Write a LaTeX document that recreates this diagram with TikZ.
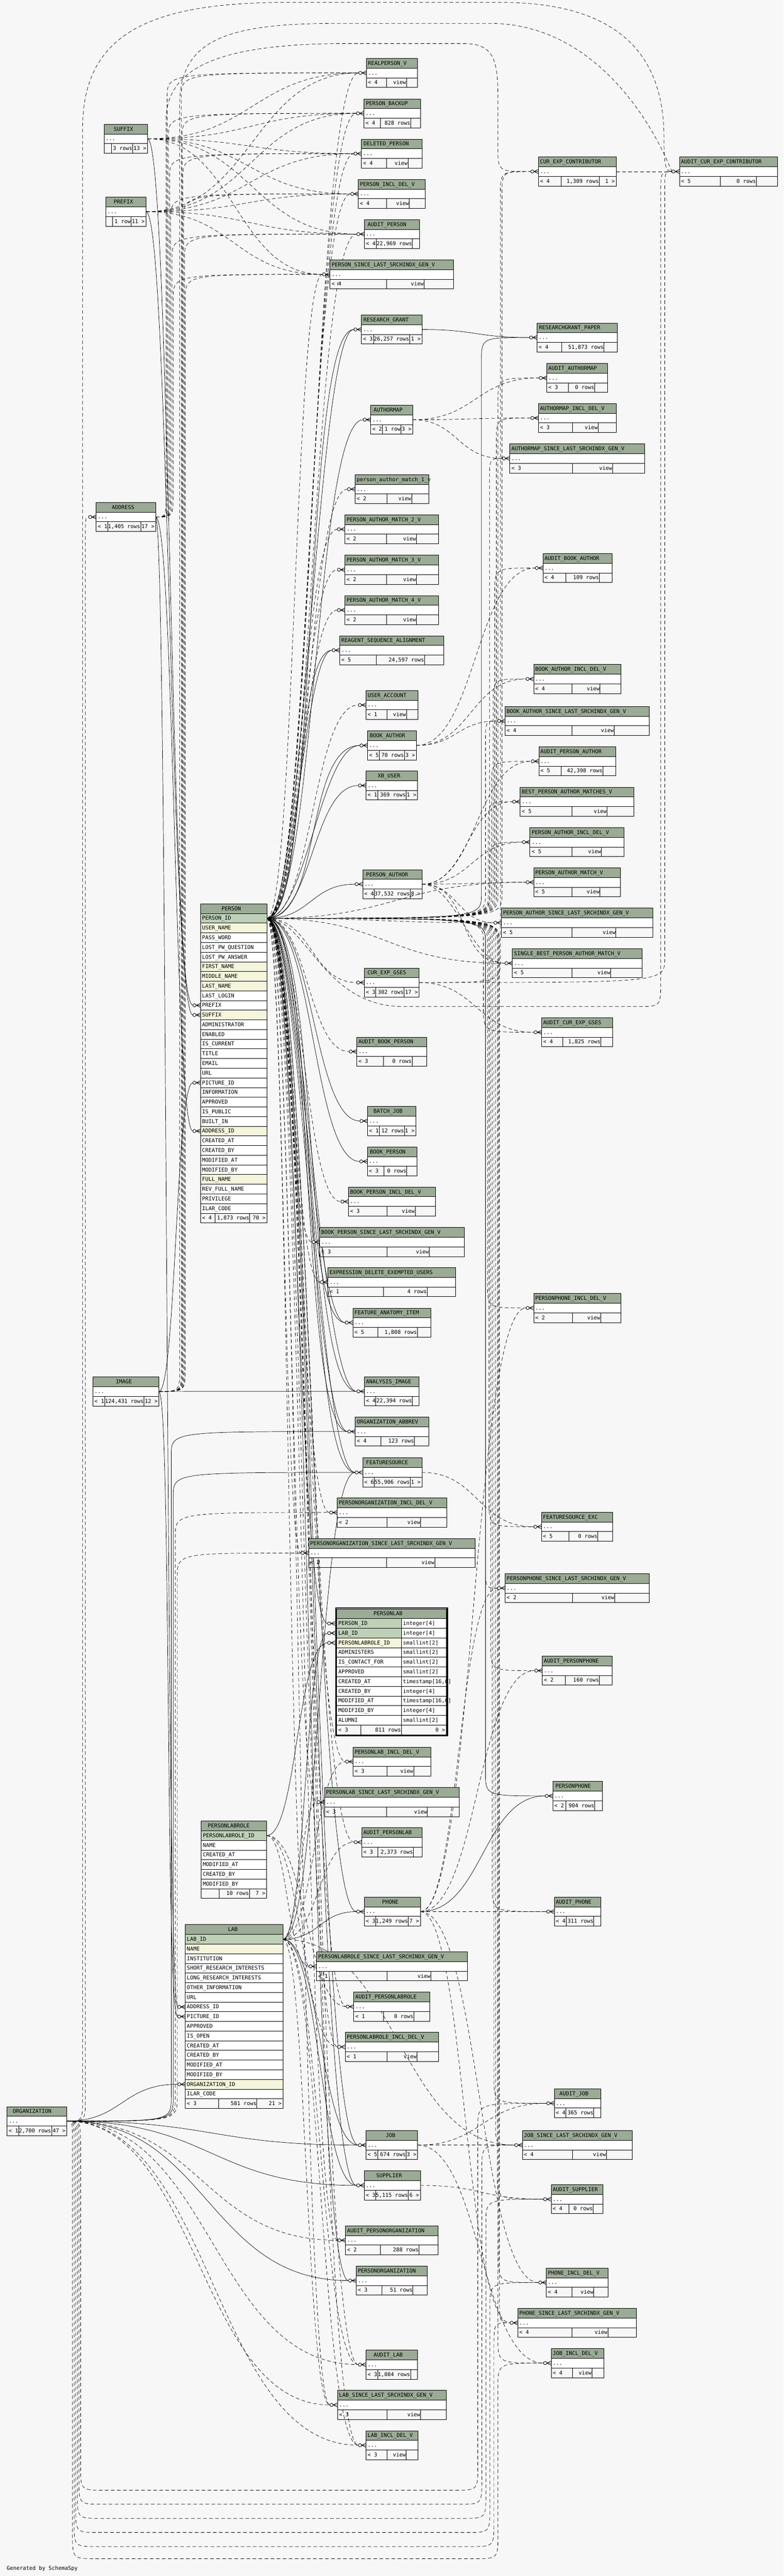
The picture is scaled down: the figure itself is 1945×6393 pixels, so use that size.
\documentclass[tikz,border=0pt]{standalone}
\usepackage{fontspec}
\newfontfamily\tbmono{DejaVu Sans Mono}
\usetikzlibrary{calc}
\pgfdeclarelayer{bottom}
\pgfdeclarelayer{edges}
\pgfsetlayers{bottom,edges,main}
\definecolor{pagebg}{HTML}{F7F7F7}
\definecolor{hdrc}{HTML}{9BAB96}
\definecolor{pkc}{HTML}{BED1B8}
\definecolor{idxc}{HTML}{F5F5DC}
\newcount\tbn
\def\tbend{tbend-marker}
\def\tbcount#1{\tbn=0 \tbcountloop#1\tbend}
\def\tbcountloop#1{\ifx#1\tbend\else\advance\tbn by 1 \expandafter\tbcountloop\fi}
\newif\iftbmk \tbmktrue
\newcommand\tbfont{\tbmono\fontsize{13.3pt}{15pt}\selectfont}
\tikzset{
  tbox/.style={draw=black,line width=1pt},
  txt/.style={font=\tbfont,inner sep=0pt,outer sep=0pt,text height=10pt,text depth=1pt},
  fkl/.style={draw=black,line width=0.9pt},
  iml/.style={draw=black,line width=0.9pt,dash pattern=on 9pt off 6pt},
}
\newcommand\ttl[5]{\expandafter\tbcount\expandafter{#5}\pgfmathsetmacro\tboff{max(4,(#3-#2-10*\the\tbn)/2)}\node[txt,anchor=west] (#1) at (#2+\tboff,#4+12) {#5};}
\newcommand\mk[2]{\draw[line width=1.1pt,fill=pagebg] (#1-15,#2) circle[radius=4pt];
  \draw[line width=1.1pt] (#1-11,#2) -- (#1,#2-5) (#1-11,#2) -- (#1,#2) (#1-11,#2) -- (#1,#2+5);}
\newcommand\ftr[9]{%
  \draw[tbox] (#1,#3) -- (#2,#3) (#4,#3) -- (#4,#3+24) (#5,#3) -- (#5,#3+24);
  \node[txt,anchor=west] (#9-fa) at (#1+4,#3+12) {#6};
  \node[txt,anchor=east] (#9-fb) at (#5-1,#3+12) {#7};
  \node[txt,anchor=east] (#9-fc) at (#2-3,#3+12) {#8};}
\newcommand\tb[5]{\def\tbid{#1}\def\tbxa{#2}\def\tbxb{#3}\def\tbya{#4}\def\tbtitle{#5}\tbfinish}
\newcommand\tbfinish[5]{%
  \fill[hdrc] (\tbxa,\tbya) rectangle (\tbxb,\tbya+24);
  \fill[white] (\tbxa,\tbya+24) rectangle (\tbxb,\tbya+48);
  \draw[tbox] (\tbxa,\tbya+24) -- (\tbxb,\tbya+24);
  \ttl{\tbid-t}{\tbxa}{\tbxb}{\tbya}{\tbtitle}%
  \pgfmathsetmacro\tbw{\tbxb-\tbxa}%
  \node[inner sep=0pt,outer sep=0pt,minimum width=\tbw pt,minimum height=24pt,anchor=west] (\tbid) at (\tbxa,\tbya+36) {};
  \node[txt,anchor=west] (\tbid-d) at (\tbxa+4,\tbya+36) {...};
  \coordinate (\tbid-in) at (\tbxa-19,\tbya+36);
  \ftr{\tbxa}{\tbxb}{\tbya+48}{#1}{#2}{#3}{#4}{#5}{\tbid}%
  \draw[tbox] (\tbxa,\tbya) rectangle (\tbxb,\tbya+72);
  \iftbmk\mk{\tbxa}{\tbya+36}\fi}
\newcommand\dt[6]{%
  \fill[hdrc] (#2,#4) rectangle (#3,#4+24);
  \ttl{#1-t}{#2}{#3}{#4}{#5}%
  \foreach \cn/\rc [count=\i] in {#6}{%
    \fill[\rc] (#2,#4+24*\i) rectangle (#3,#4+24*\i+24);
    \draw[tbox] (#2,#4+24*\i) -- (#3,#4+24*\i);
    \node[txt,anchor=west] (#1-\i) at (#2+4,#4+24*\i+12) {\cn};
    \coordinate (#1-\i-in) at (#2-19,#4+24*\i+12);
  }}
\newcommand\Ec[4][fkl]{\draw[#1] let \p1=(#2),\p2=(#3),\n1={max(30pt,#4*abs(\x2-\x1))} in (\p1) .. controls +(\n1,0) and +(-\n1,0) .. (\p2);}
\newcommand\Ev[4][iml]{\draw[#1] let \p1=(#2),\p2=(#4),\n1={ifthenelse(\y2>\y1,60pt,-60pt)} in (\p1) .. controls ({#3pt},\y1) .. ({#3pt},{\y1+\n1}) -- ({#3pt},{\y2-\n1}) .. controls ({#3pt},\y2) .. (\p2);}
\newcommand\Eb[6][iml]{\draw[#1] let \p1=(#2),\p2=(#6) in (\p1) .. controls ({#3pt},\y1) .. ({#3pt},{\y1-60pt}) -- ({#3pt},{60pt-#4pt}) .. controls ({#3pt},{-#4pt}) .. ({#3pt+60pt},{-#4pt}) -- ({#5pt-60pt},{-#4pt}) .. controls ({#5pt},{-#4pt}) .. ({#5pt},{60pt-#4pt}) -- ({#5pt},{\y2-60pt}) .. controls ({#5pt},\y2) .. (\p2);}

\begin{document}
\begin{tikzpicture}[x=1pt,y=-1pt]
\useasboundingbox (0,0) rectangle (1945,6393);
\begin{pgfonlayer}{bottom}
\fill[pagebg] (0,0) rectangle (1945,6393);
\end{pgfonlayer}

% ---------- middle column ----------
\tb{realpersonv}{909.3}{1036.7}{145}{REALPERSON\_V}{960}{1009}{< 4}{view}{}
\tb{personbackup}{903.3}{1043.3}{245.4}{PERSON\_BACKUP}{944.7}{1019.7}{< 4}{828 rows}{}
\tb{deletedperson}{897.3}{1047.7}{345.3}{DELETED\_PERSON}{959.3}{1012.7}{< 4}{view}{}
\tb{personincldelv}{889.3}{1055.7}{445.2}{PERSON\_INCL\_DEL\_V}{959.3}{1016.3}{< 4}{view}{}
\tb{auditperson}{904.3}{1040.7}{545}{AUDIT\_PERSON}{933.3}{1023.7}{< 4}{22,969 rows}{}
\tb{personsincev}{819.3}{1125.7}{644.9}{PERSON\_SINCE\_LAST\_SRCHINDX\_GEN\_V}{959.3}{1052.7}{< 4}{view}{}
\tb{researchgrant}{897.3}{1047.3}{781.7}{RESEARCH\_GRANT}{927.7}{1016.7}{< 3}{26,257 rows}{1 >}
\tb{authormap}{920.3}{1024.3}{1005.6}{AUTHORMAP}{949.3}{995.7}{< 2}{1 row}{3 >}
\tb{pamone}{881.3}{1064.3}{1178}{person\_author\_match\_1\_v}{960.3}{1021.7}{< 2}{view}{}
\tb{pamtwo}{856.3}{1088.3}{1277.5}{PERSON\_AUTHOR\_MATCH\_2\_V}{959.3}{1033.7}{< 2}{view}{}
\tb{pamthree}{856.3}{1088.3}{1377.9}{PERSON\_AUTHOR\_MATCH\_3\_V}{959.3}{1033.7}{< 2}{view}{}
\tb{pamfour}{856.3}{1088.3}{1478}{PERSON\_AUTHOR\_MATCH\_4\_V}{959.3}{1033.7}{< 2}{view}{}
\tb{reagent}{843.3}{1101.3}{1577.7}{REAGENT\_SEQUENCE\_ALIGNMENT}{933.3}{1053.7}{< 5}{24,597 rows}{}
\tb{useraccount}{908.3}{1037.3}{1713.7}{USER\_ACCOUNT}{960.3}{1008.7}{< 1}{view}{}
\tb{bookauthor}{912.3}{1033.3}{1814}{BOOK\_AUTHOR}{941.7}{1003.7}{< 5}{70 rows}{3 >}
\tb{xbuser}{908.5}{1036.6}{1913.4}{XB\_USER}{937.5}{1008.4}{< 1}{369 rows}{1 >}
\tb{personauthor}{900.2}{1047.3}{2158.4}{PERSON\_AUTHOR}{929.1}{1018.3}{< 4}{37,532 rows}{8 >}
\tb{curexpgses}{904}{1040.4}{2402.4}{CUR\_EXP\_GSES}{933}{1003}{< 3}{302 rows}{17 >}
\tb{auditbookperson}{885.7}{1059.5}{2573.7}{AUDIT\_BOOK\_PERSON}{952}{1022.9}{< 3}{0 rows}{}
\tb{batchjob}{912.3}{1032}{2746}{BATCH\_JOB}{941.3}{1003.8}{< 1}{12 rows}{1 >}
\tb{bookperson}{911.6}{1035}{2846.4}{BOOK\_PERSON}{952.7}{1009.9}{< 3}{0 rows}{}
\tb{bookpersonincl}{865}{1081.5}{2946}{BOOK\_PERSON\_INCL\_DEL\_V}{960.4}{1030.5}{< 3}{view}{}
\tb{bookpersonsince}{793.4}{1152.4}{3046.4}{BOOK\_PERSON\_SINCE\_LAST\_SRCHINDX\_GEN\_V}{960.4}{1065.5}{< 3}{view}{}
\tb{expression}{814}{1131}{3146}{EXPRESSION\_DELETE\_EXEMPTED\_USERS}{952}{1060.2}{< 1}{4 rows}{}
\tb{featureanatomy}{875.8}{1069.4}{3246.4}{FEATURE\_ANATOMY\_ITEM}{937.5}{1035.8}{< 5}{1,808 rows}{}
\tb{analysisimage}{904.7}{1040.4}{3417}{ANALYSIS\_IMAGE}{933}{1023.6}{< 4}{22,394 rows}{}
\tb{orgabbrev}{881.9}{1064}{3516.7}{ORGANIZATION\_ABBREV}{945.1}{1029}{< 4}{123 rows}{}
\tb{featuresource}{900.2}{1047.3}{3618.2}{FEATURESOURCE}{929.1}{1018.3}{< 6}{55,906 rows}{1 >}
\tb{personorgincl}{836.9}{1109}{3717.7}{PERSONORGANIZATION\_INCL\_DEL\_V}{960.4}{1044.2}{< 2}{view}{}
\tb{personorgsince}{766}{1179.1}{3818.2}{PERSONORGANIZATION\_SINCE\_LAST\_SRCHINDX\_GEN\_V}{959.6}{1079.3}{< 2}{view}{}
\tb{personlabincl}{876.5}{1069.4}{4335.9}{PERSONLAB\_INCL\_DEL\_V}{960.4}{1026.7}{< 3}{view}{}
\tb{personlabsince}{805.6}{1139.5}{4436.4}{PERSONLAB\_SINCE\_LAST\_SRCHINDX\_GEN\_V}{959.6}{1061}{< 3}{view}{}
\tb{auditpersonlab}{897.9}{1047.3}{4535.9}{AUDIT\_PERSONLAB}{937.5}{1025.9}{< 3}{2,373 rows}{}
\tb{phone}{904}{1043.4}{4708.1}{PHONE}{933}{1013.7}{< 3}{1,249 rows}{7 >}
\tb{personlabrolesince}{785.8}{1160}{4844}{PERSONLABROLE\_SINCE\_LAST\_SRCHINDX\_GEN\_V}{960.4}{1069.4}{< 1}{view}{}
\tb{auditpersonlabrole}{878}{1067}{4943.8}{AUDIT\_PERSONLABROLE}{952}{1027.4}{< 1}{0 rows}{}
\tb{personlabroleincl}{856.7}{1089.2}{5043.8}{PERSONLABROLE\_INCL\_DEL\_V}{960.4}{1035.1}{< 1}{view}{}
\tb{job}{908.5}{1036.6}{5287.6}{JOB}{937.5}{1008.4}{< 5}{674 rows}{3 >}
\tb{supplier}{904}{1043.4}{5387.6}{SUPPLIER}{933}{1013.7}{< 3}{5,115 rows}{6 >}
\tb{auditpersonorg}{857.5}{1087.7}{5523.8}{AUDIT\_PERSONORGANIZATION}{944.4}{1040.4}{< 2}{288 rows}{}
\tb{personorg}{884.1}{1061}{5623.8}{PERSONORGANIZATION}{947.4}{1025.2}{< 3}{51 rows}{}
\tb{auditlab}{908.5}{1036.6}{5832.4}{AUDIT\_LAB}{937.5}{1019}{< 3}{1,084 rows}{}
\tb{labsince}{837.7}{1108.2}{5932.4}{LAB\_SINCE\_LAST\_SRCHINDX\_GEN\_V}{960.4}{1044.2}{< 3}{view}{}
\tb{labincl}{908.5}{1037.3}{6032.4}{LAB\_INCL\_DEL\_V}{960.4}{1008.4}{< 3}{view}{}

% ---------- right column ----------
\tb{curexpcontrib}{1336.3}{1529.2}{389.6}{CUR\_EXP\_CONTRIBUTOR}{1392.4}{1487.4}{< 4}{1,309 rows}{1 >}
\tb{auditcurexpcontrib}{1686.5}{1930.2}{389.6}{AUDIT\_CUR\_EXP\_CONTRIBUTOR}{1787.6}{1877.4}{< 5}{0 rows}{}
\tb{rgpaper}{1333.3}{1532.4}{801.6}{RESEARCHGRANT\_PAPER}{1393.6}{1499.6}{< 4}{51,873 rows}{}
\tb{auditauthormap}{1357.3}{1507.5}{902}{AUDIT\_AUTHORMAP}{1411.3}{1476.5}{< 3}{0 rows}{}
\tb{authormapincl}{1336.4}{1529.7}{1001.4}{AUTHORMAP\_INCL\_DEL\_V}{1420.7}{1484.5}{< 3}{view}{}
\tb{authormapsince}{1265.5}{1600.6}{1101.7}{AUTHORMAP\_SINCE\_LAST\_SRCHINDX\_GEN\_V}{1420.7}{1520.4}{< 3}{view}{}
\tb{auditbookauthor}{1347.5}{1519.5}{1373.7}{AUDIT\_BOOK\_AUTHOR}{1404.3}{1487.6}{< 4}{109 rows}{}
\tb{bookauthorincl}{1324.5}{1540.8}{1649}{BOOK\_AUTHOR\_INCL\_DEL\_V}{1419.3}{1489.4}{< 4}{view}{}
\tb{bookauthorsince}{1253.7}{1611.4}{1753.3}{BOOK\_AUTHOR\_SINCE\_LAST\_SRCHINDX\_GEN\_V}{1419.5}{1524.5}{< 4}{view}{}
\tb{auditpersonauthor}{1337.3}{1527.8}{1853.3}{AUDIT\_PERSON\_AUTHOR}{1393.3}{1496.4}{< 5}{42,398 rows}{}
\tb{bestpam}{1291.2}{1573.2}{1953.6}{BEST\_PERSON\_AUTHOR\_MATCHES\_V}{1419.2}{1506.8}{< 5}{view}{}
\tb{personauthorincl}{1315.5}{1549.5}{2054}{PERSON\_AUTHOR\_INCL\_DEL\_V}{1419.2}{1493.1}{< 5}{view}{}
\tb{pamv}{1324.7}{1540.4}{2153.6}{PERSON\_AUTHOR\_MATCH\_V}{1419.2}{1489.3}{< 5}{view}{}
\tb{personauthorsince}{1244.7}{1620.4}{2254}{PERSON\_AUTHOR\_SINCE\_LAST\_SRCHINDX\_GEN\_V}{1419.2}{1529}{< 5}{view}{}
\tb{singlebest}{1272}{1593}{2354.5}{SINGLE\_BEST\_PERSON\_AUTHOR\_MATCH\_V}{1419.2}{1516}{< 5}{view}{}
\tb{auditcurexpgses}{1344.5}{1521.3}{2525.8}{AUDIT\_CUR\_EXP\_GSES}{1397.1}{1491.6}{< 4}{1,825 rows}{}
\tb{personphoneincl}{1324.7}{1541}{3210}{PERSONPHONE\_INCL\_DEL\_V}{1420.7}{1490.9}{< 2}{view}{}
\tb{featuresourceexc}{1343.8}{1521.3}{3753}{FEATURESOURCE\_EXC}{1411.6}{1484}{< 5}{0 rows}{}
\tb{personphonesince}{1253.8}{1612}{3905.3}{PERSONPHONE\_SINCE\_LAST\_SRCHINDX\_GEN\_V}{1420.7}{1525.9}{< 2}{view}{}
\tb{auditpersonphone}{1346}{1519}{4110}{AUDIT\_PERSONPHONE}{1403.2}{1487.8}{< 2}{160 rows}{}
\tb{personphone}{1372}{1495.4}{4421}{PERSONPHONE}{1404}{1476.4}{< 2}{904 rows}{}
\tb{auditphone}{1375.8}{1491.6}{4708.1}{AUDIT\_PHONE}{1405.5}{1474}{< 4}{311 rows}{}
\tb{auditjob}{1375.8}{1491.6}{5183.8}{AUDIT\_JOB}{1404}{1474}{< 4}{365 rows}{}
\tb{jobsince}{1296.5}{1569.4}{5287.6}{JOB\_SINCE\_LAST\_SRCHINDX\_GEN\_V}{1420.7}{1505.3}{< 4}{view}{}
\tb{auditsupplier}{1368}{1497}{5421.9}{AUDIT\_SUPPLIER}{1411.6}{1472.6}{< 4}{0 rows}{}
\tb{phoneincl}{1356}{1509}{5628.6}{PHONE\_INCL\_DEL\_V}{1419.2}{1474}{< 4}{view}{}
\tb{phonesince}{1285}{1580}{5728.6}{PHONE\_SINCE\_LAST\_SRCHINDX\_GEN\_V}{1419.2}{1509.1}{< 4}{view}{}
\tb{jobincl}{1368}{1499.2}{5828.6}{JOB\_INCL\_DEL\_V}{1420.7}{1469.5}{< 4}{view}{}

% ---------- left column ----------
\tbmkfalse
\tb{suffix}{258.3}{366.2}{308.4}{SUFFIX}{276.1}{329.5}{}{3 rows}{13 >}
\tb{prefix}{262.3}{362.2}{489.2}{PREFIX}{279.6}{325.5}{}{1 row}{11 >}
\tb{image}{230.6}{394.4}{3417.3}{IMAGE}{259.7}{357.7}{< 1}{124,431 rows}{12 >}
\tb{organization}{17.7}{165.6}{5228}{ORGANIZATION}{46.4}{127.8}{< 1}{2,700 rows}{47 >}
\tbmktrue
\tb{address}{238.8}{386.3}{1247}{ADDRESS}{267.5}{349}{< 1}{1,405 rows}{17 >}

% ---------- PERSON ----------
\dt{person}{497.7}{662.3}{2243}{PERSON}{PERSON\_ID/pkc,USER\_NAME/idxc,PASS\_WORD/white,LOST\_PW\_QUESTION/white,LOST\_PW\_ANSWER/white,FIRST\_NAME/idxc,MIDDLE\_NAME/idxc,LAST\_NAME/idxc,LAST\_LOGIN/white,PREFIX/white,SUFFIX/idxc,ADMINISTRATOR/white,ENABLED/white,IS\_CURRENT/white,TITLE/white,EMAIL/white,URL/white,PICTURE\_ID/white,INFORMATION/white,APPROVED/white,IS\_PUBLIC/white,BUILT\_IN/white,ADDRESS\_ID/idxc,CREATED\_AT/white,CREATED\_BY/white,MODIFIED\_AT/white,MODIFIED\_BY/white,FULL\_NAME/idxc,REV\_FULL\_NAME/white,PRIVILEGE/white,ILAR\_CODE/white}
\ftr{497.7}{662.3}{3011}{534.3}{619.7}{< 4}{1,873 rows}{70 >}{person}
\draw[tbox] (497.7,2243) rectangle (662.3,3035);
\coordinate (person-pk) at (662.3,2279);
\foreach \r in {10,11,18,23}{\mk{497.7}{2255+24*\r}}

% ---------- PERSONLABROLE ----------
\dt{plr}{499.5}{661.7}{4519.3}{PERSONLABROLE}{PERSONLABROLE\_ID/pkc,NAME/white,CREATED\_AT/white,MODIFIED\_AT/white,CREATED\_BY/white,MODIFIED\_BY/white}
\ftr{499.5}{661.7}{4687.3}{543.5}{618.7}{}{10 rows}{7 >}{plr}
\draw[tbox] (499.5,4519.3) rectangle (661.7,4711.3);
\coordinate (plr-pk) at (661.7,4555.3);

% ---------- LAB ----------
\dt{lab}{459.8}{701.9}{4776.6}{LAB}{LAB\_ID/pkc,NAME/idxc,INSTITUTION/white,SHORT\_RESEARCH\_INTERESTS/white,LONG\_RESEARCH\_INTERESTS/white,OTHER\_INFORMATION/white,URL/white,ADDRESS\_ID/white,PICTURE\_ID/white,APPROVED/white,IS\_OPEN/white,CREATED\_AT/white,CREATED\_BY/white,MODIFIED\_AT/white,MODIFIED\_BY/white,ORGANIZATION\_ID/idxc,ILAR\_CODE/white}
\ftr{459.8}{701.9}{5208.6}{542.1}{637.8}{< 3}{581 rows}{21 >}{lab}
\draw[tbox] (459.8,4776.6) rectangle (701.9,5232.6);
\coordinate (lab-pk) at (701.9,4812.6);
\foreach \r in {8,9,16}{\mk{459.8}{4788.6+24*\r}}

% ---------- PERSONLAB (focus) ----------
\fill[hdrc] (836,3993) rectangle (1108,4017);
\ttl{personlab-t}{836}{1108}{3993}{PERSONLAB}
\foreach \cn/\ct/\rc [count=\i] in {PERSON\_ID/integer[4]/pkc,LAB\_ID/integer[4]/pkc,PERSONLABROLE\_ID/smallint[2]/idxc,ADMINISTERS/smallint[2]/white,IS\_CONTACT\_FOR/smallint[2]/white,APPROVED/smallint[2]/white,CREATED\_AT/{timestamp[16,6]}/white,CREATED\_BY/integer[4]/white,MODIFIED\_AT/{timestamp[16,6]}/white,MODIFIED\_BY/integer[4]/white,ALUMNI/smallint[2]/white}{%
  \fill[\rc] (836,3993+24*\i) rectangle (996.2,4017+24*\i);
  \fill[white] (996.2,3993+24*\i) rectangle (1108,4017+24*\i);
  \draw[tbox] (836,3993+24*\i) -- (1108,3993+24*\i) (996.2,3993+24*\i) -- (996.2,4017+24*\i);
  \node[txt,anchor=west] (personlab-\i) at (840,4005+24*\i) {\cn};
  \node[txt,anchor=west] (personlab-\i-ty) at (1000.2,4005+24*\i) {\ct};
  \coordinate (personlab-\i-in) at (813,4005+24*\i);
}
\ftr{836}{1108}{4281}{895.6}{996.2}{< 3}{811 rows}{0 >}{personlab}
\draw[tbox] (836,3993) rectangle (1108,4305);
\draw[line width=3.5pt] (833.5,3990.5) rectangle (1110.5,4307.5);
\foreach \r in {1,2,3}{\mk{832}{4005+24*\r}}

\node[txt,anchor=west] (gen) at (16.7,6374) {Generated by SchemaSpy};

% ================= connectors =================
\begin{pgfonlayer}{edges}
% PERSON, real keys
\foreach \q/\ff in {researchgrant/0.42,researchgrant/0.6,authormap/0.5,reagent/0.42,reagent/0.6,bookauthor/0.42,bookauthor/0.6,xbuser/0.5,personauthor/0.5,batchjob/0.5,bookperson/0.5,featureanatomy/0.42,featureanatomy/0.6,analysisimage/0.42,analysisimage/0.6,orgabbrev/0.42,orgabbrev/0.6,featuresource/0.42,featuresource/0.6,phone/0.5,job/0.5,supplier/0.5,personorg/0.5}{\Ec{person-pk}{\q-in}{\ff}}
\Ec{person-pk}{personlab-1-in}{0.5}
\Ev[fkl]{person-pk}{1195}{rgpaper-in}
\Ev[fkl]{person-pk}{1205}{personphone-in}
% PERSON, implied keys
\foreach \q in {realpersonv,personbackup,deletedperson,personincldelv,auditperson,personsincev,pamone,pamtwo,pamthree,pamfour,useraccount,curexpgses,auditbookperson,bookpersonincl,bookpersonsince,expression,personorgincl,personorgsince,personlabincl,personlabsince,auditpersonlab,personlabrolesince,auditpersonlabrole,personlabroleincl,auditpersonorg,auditlab,labsince,labincl}{\Ec[iml]{person-pk}{\q-in}{0.5}}
\foreach \q/\xv in {auditauthormap/1236,authormapincl/1232,authormapsince/1215,auditbookauthor/1228,bookauthorincl/1224,bookauthorsince/1205,auditpersonauthor/1220,bestpam/1212,personauthorincl/1216,auditcurexpgses/1200,personphoneincl/1210,featuresourceexc/1214,personphonesince/1205,auditpersonphone/1218,auditphone/1222,auditjob/1226,jobsince/1230,auditsupplier/1234,phoneincl/1238,phonesince/1240,jobincl/1236}{\Ev{person-pk}{\xv}{\q-in}}
\foreach \q in {pamv,personauthorsince,singlebest}{\Ec[iml]{person-pk}{\q-in}{0.5}}
\Ev{person-pk}{1246}{curexpcontrib-in}
\draw[iml] (person-pk) .. controls (760,2279) and (800,2498) .. (1000,2498) -- (1580,2498) .. controls (1640,2498) .. (1640,2438) -- (1640,486) .. controls (1640,425.6) .. (auditcurexpcontrib-in);

% second-level parents
\Ec{researchgrant.east}{rgpaper-in}{0.5}
\foreach \q in {auditauthormap,authormapincl,authormapsince}{\Ec[iml]{authormap.east}{\q-in}{0.5}}
\foreach \q in {auditbookauthor,bookauthorincl,bookauthorsince}{\Ec[iml]{bookauthor.east}{\q-in}{0.5}}
\foreach \q/\ff in {bestpam/0.5,personauthorincl/0.5,pamv/0.5,personauthorsince/0.5,singlebest/0.4,singlebest/0.6,auditpersonauthor/0.5}{\Ec[iml]{personauthor.east}{\q-in}{\ff}}
\Ec[iml]{curexpgses.east}{auditcurexpgses-in}{0.5}
\Ev{curexpgses.east}{1242}{curexpcontrib-in}
\Ev{curexpgses.east}{1650}{auditcurexpcontrib-in}
\Ec[iml]{curexpcontrib.east}{auditcurexpcontrib-in}{0.5}
\Ec[iml]{featuresource.east}{featuresourceexc-in}{0.5}
\Ec{phone.east}{personphone-in}{0.5}
\foreach \q in {auditphone,phoneincl,phonesince,auditpersonphone,personphonesince,personphoneincl}{\Ec[iml]{phone.east}{\q-in}{0.5}}
\foreach \q in {auditjob,jobsince,jobincl}{\Ec[iml]{job.east}{\q-in}{0.5}}
\Ec[iml]{supplier.east}{auditsupplier-in}{0.5}

% LAB
\Ec{lab-pk}{personlab-2-in}{0.5}
\foreach \q in {featuresource,phone,job,supplier}{\Ec{lab-pk}{\q-in}{0.5}}
\foreach \q in {personlabincl,personlabsince,auditpersonlab,auditlab,labsince,labincl,jobsince}{\Ec[iml]{lab-pk}{\q-in}{0.5}}

% PERSONLABROLE
\Ec{plr-pk}{personlab-3-in}{0.5}
\foreach \q in {personlabrolesince,auditpersonlabrole,personlabroleincl}{\Ec[iml]{plr-pk}{\q-in}{0.5}}

% ORGANIZATION
\Ec{organization.east}{lab-16-in}{0.5}
\Ev[fkl]{organization.east}{425}{orgabbrev-in}
\Ev[fkl]{organization.east}{430}{featuresource-in}
\Ev{organization.east}{435}{personorgincl-in}
\Ev{organization.east}{440}{personorgsince-in}
\foreach \q in {job,supplier,personorg}{\Ec{organization.east}{\q-in}{0.5}}
\foreach \q in {auditpersonorg,auditlab,labsince,labincl}{\Ec[iml]{organization.east}{\q-in}{0.5}}
\Eb{organization.east}{200}{6180}{1186}{auditjob-in}
\Eb{organization.east}{196}{6215}{1196}{jobsince-in}
\Eb{organization.east}{192}{6250}{1206}{auditsupplier-in}
\Eb{organization.east}{188}{6285}{1216}{phoneincl-in}
\Eb{organization.east}{184}{6320}{1226}{phonesince-in}
\Eb{organization.east}{180}{6350}{1236}{jobincl-in}
\Ev{organization.east}{212}{address-in}
\draw[iml] (organization.east) .. controls (205,5264) .. (205,5204) -- (205,320) .. controls (205,90) and (360,8) .. (700,6) -- (1250,6) .. controls (1560,8) and (1648,160) .. (1648,340) .. controls (1648,410) and (1652,425.6) .. (auditcurexpcontrib-in);

% IMAGE
\Ec{image.east}{person-18-in}{0.5}
\Ec{image.east}{lab-9-in}{0.5}
\Ec{image.east}{analysisimage-in}{0.5}
\foreach \q/\xv in {realpersonv/450,personbackup/452,deletedperson/454,personincldelv/456,auditperson/458,personsincev/460}{\Ev{image.east}{\xv}{\q-in}}
\draw[iml] (image.east) .. controls (446,3453) .. (446,3393) -- (446,260) .. controls (446,100) and (560,60) .. (820,58) -- (1220,58) .. controls (1450,60) and (1600,260) .. (auditcurexpcontrib-in);

% ADDRESS
\Ec{address.east}{person-23-in}{0.5}
\Ec{address.east}{lab-8-in}{0.5}
\foreach \q/\xv in {realpersonv/415,personbackup/418,deletedperson/421,personincldelv/424,auditperson/427,personsincev/430}{\Ev{address.east}{\xv}{\q-in}}
\draw[iml] (address.east) .. controls (412,1283) .. (412,1223) -- (412,300) .. controls (412,160) and (560,110) .. (850,108) -- (1150,108) .. controls (1228,108) and (1236,150) .. (1236,250) -- (1236,365) .. controls (1236,425.6) .. (curexpcontrib-in);

% PREFIX / SUFFIX
\Ec{prefix.east}{person-10-in}{0.5}
\Ec{suffix.east}{person-11-in}{0.5}
\foreach \q in {realpersonv,personbackup,deletedperson,personincldelv,auditperson,personsincev}{\Ec[iml]{prefix.east}{\q-in}{0.5}\Ec[iml]{suffix.east}{\q-in}{0.5}}
\end{pgfonlayer}
\end{tikzpicture}
\end{document}
